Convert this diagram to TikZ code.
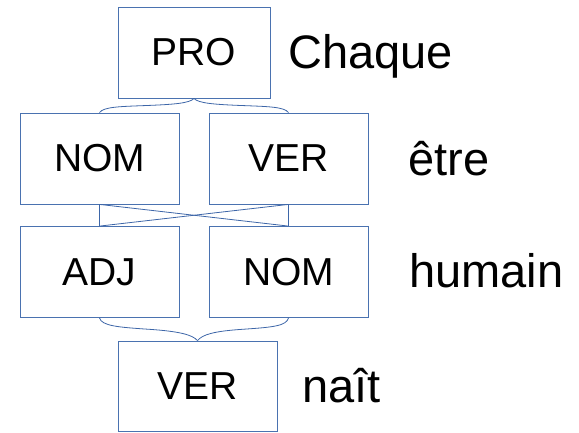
\documentclass[tikz,border=0pt]{standalone}
\usepackage{fontspec}
\setmainfont{Liberation Sans}
\usepackage{tikz}
\usetikzlibrary{positioning, calc}
\definecolor{tagBlue}{HTML}{4A72B0}
\definecolor{linkBlue}{HTML}{3D66A8}

\begin{document}
\begin{tikzpicture}[
  x=1pt, y=-1pt,
  tagbox/.style={
    draw=tagBlue, line width=0.8pt,
    minimum width=159pt, minimum height=91pt,
    inner sep=0pt, font=\fontsize{39}{41}\selectfont
  },
  word/.style={
    anchor=base west, inner sep=0pt,
    font=\fontsize{47}{51}\selectfont
  },
  link/.style={draw=linkBlue, line width=0.8pt},
]
\useasboundingbox (0,0) rectangle (579,432);

% === TAGS ===
\node[tagbox, minimum width=152pt] (t-pro) at (194,52.5) {PRO};
\node[tagbox] (t-nom1) at (99.5,158.5) {NOM};
\node[tagbox] (t-ver1) at (288.5,158.5) {VER};
\node[tagbox] (t-adj) at (99.5,272) {ADJ};
\node[tagbox] (t-nom2) at (288.5,272) {NOM};
\node[tagbox, minimum height=90pt] (t-ver2) at (197.5,386) {VER};

% === WORDS ===
\node[word] (w-chaque) at (288,68) {Chaque};
\node[word] (w-etre) at (408,175) {être};
\node[word] (w-humain) at (409,287) {humain};
\node[word] (w-nait) at (302,402) {naît};

% Brace PRO -> NOM / VER
\coordinate (b1-l) at ($(t-pro.south)!0.5!(t-nom1.north)$);
\coordinate (b1-r) at ($(t-pro.south)!0.5!(t-ver1.north)$);
\draw[link] (t-nom1.north) .. controls +(4,-6) and +(-25,1) .. (b1-l)
  .. controls +(25,-1) and +(-4,5) .. (t-pro.south);
\draw[link] (t-ver1.north) .. controls +(-4,-6) and +(25,1) .. (b1-r)
  .. controls +(-25,-1) and +(4,5) .. (t-pro.south);

% Transitions between row 2 and row 3
\draw[link] (t-nom1.south) -- (t-adj.north);
\draw[link] (t-nom1.south) -- (t-nom2.north);
\draw[link] (t-ver1.south) -- (t-nom2.north);
\draw[link] (t-ver1.south) -- (t-adj.north);

% Brace ADJ / NOM -> VER
\coordinate (b2-l) at ($(t-adj.south)!0.5!(t-ver2.north)$);
\coordinate (b2-r) at ($(t-nom2.south)!0.5!(t-ver2.north)$);
\draw[link] (t-adj.south) .. controls +(2,8) and +(-30,-2) .. (b2-l)
  .. controls +(30,2) and +(-5,-6) .. (t-ver2.north);
\draw[link] (t-nom2.south) .. controls +(-2,8) and +(30,-2) .. (b2-r)
  .. controls +(-30,2) and +(5,-6) .. (t-ver2.north);

\end{tikzpicture}
\end{document}
